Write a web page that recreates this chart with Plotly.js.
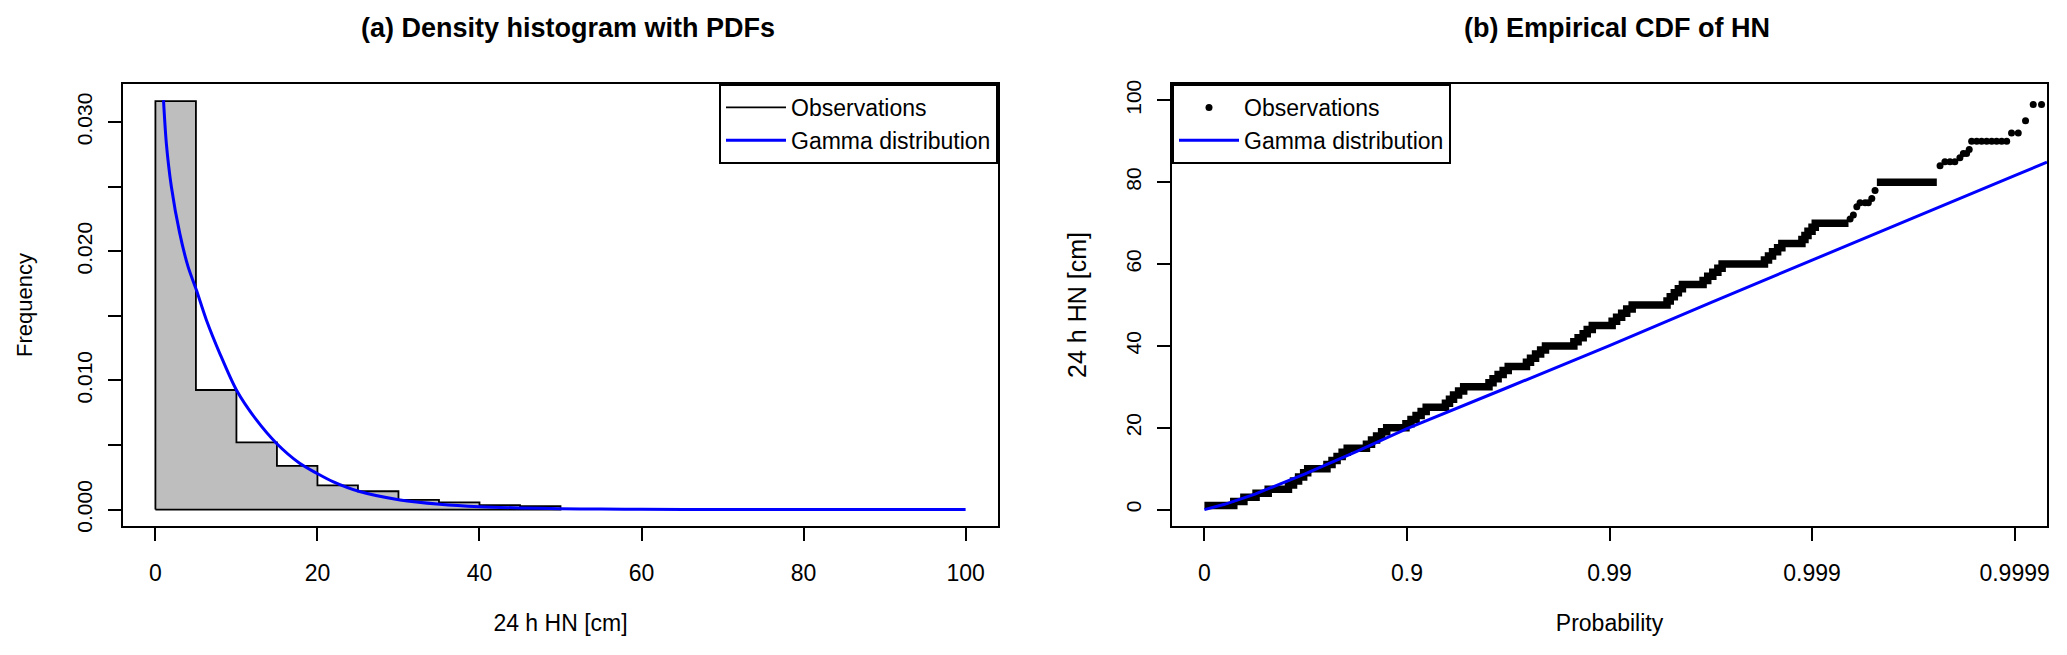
<!DOCTYPE html>
<html>
<head>
<meta charset="utf-8">
<script src="https://cdn.plot.ly/plotly-3.0.1.min.js"></script>
<style>
html, body { margin: 0; padding: 0; background: #ffffff; }
#chart { width: 2067px; height: 655px; }
</style>
</head>
<body>
<div id="chart"></div>
<script>
// ===================== Panel (a): density histogram with PDF =====================
const histBreaks  = [0, 5, 10, 15, 20, 25, 30, 35, 40, 45, 50];
const histDensity = [0.03163, 0.00926, 0.00521, 0.00338, 0.00188, 0.00142, 0.00075, 0.00056, 0.00034, 0.00027];

// fitted gamma pdf
const pdfX = [1.0, 1.35, 1.97, 3.0, 4.03, 5.06, 6.29, 7.94, 10.0, 12.47, 14.93, 17.8, 19.9, 21.9, 25.2, 30.2, 35.1, 40, 45, 50, 55, 60, 70, 80, 100];
const pdfY = [0.0317, 0.02836, 0.0250, 0.0214, 0.01881, 0.0170, 0.01468, 0.0121, 0.00926, 0.00694, 0.00514, 0.00359, 0.00282, 0.00217, 0.0014, 0.00075, 0.00042, 0.00023, 0.00013, 0.00007, 0.00004, 0.00002, 0.00001, 0.0, 0.0];

const hnTicks     = [0, 20, 40, 60, 80, 100];
const freqTicks   = [0, 0.005, 0.010, 0.015, 0.020, 0.025, 0.030];
const freqTickTxt = ['0.000', '', '0.010', '', '0.020', '', '0.030'];

// ===================== Panel (b): empirical CDF on probability paper =====================
// x values are the reduced variate  -log10(1 - p)
const probTicks   = [0, 1, 2, 3, 4];
const probTickTxt = ['0', '0.9', '0.99', '0.999', '0.9999'];

// dense part of the empirical CDF: level (cm) and reduced variate where that level starts
const stairHN = [1,2,3,4,5,6,7,8,9,10,11,12,13,14,15,16,17,18,19,20,21,22,23,24,25,26,27,28,29,30,
                 31,32,33,34,35,36,37,38,39,40,41,42,43,44,45,46,47,48,49,50,51,52,53,54,55,56,57,58,59,60,
                 61,62,63,64,65,66,67,68,69,70];
const stairStart = [0.000,0.145,0.195,0.255,0.315,0.415,0.440,0.465,0.490,0.510,
                    0.605,0.630,0.655,0.680,0.705,0.800,0.825,0.850,0.875,0.900,
                    0.995,1.020,1.045,1.070,1.095,1.190,1.210,1.230,1.255,1.280,
                    1.405,1.425,1.450,1.475,1.500,1.590,1.610,1.635,1.660,1.684,
                    1.824,1.845,1.870,1.890,1.915,2.013,2.035,2.060,2.085,2.112,
                    2.284,2.300,2.320,2.340,2.360,2.462,2.485,2.510,2.535,2.556,
                    2.765,2.785,2.805,2.830,2.851,2.950,2.965,2.980,3.000,3.016];
const stairEnd = 3.180;

// long plateau of identical values in the upper tail
const plateauHN    = [80];
const plateauStart = [3.320];
const plateauEnd   = [3.616];

// individually visible observations in the upper tail
const tailZ  = [3.188, 3.204, 3.221, 3.237, 3.262, 3.278, 3.295, 3.311,
                3.632, 3.656, 3.681, 3.705, 3.730, 3.747, 3.763, 3.776,
                3.788, 3.813, 3.837, 3.862, 3.887, 3.911, 3.936, 3.961,
                3.985, 4.018, 4.054, 4.092, 4.133];
const tailHN = [71, 72, 74, 75, 75, 75, 76, 78,
                84, 85, 85, 85, 86, 87, 87, 88,
                90, 90, 90, 90, 90, 90, 90, 90,
                92, 92, 95, 99, 99];

// fitted gamma quantiles
const gammaZ  = [0, 0.1, 0.25, 0.5, 0.75, 1.0, 1.5, 2.0, 2.5, 3.0, 3.5, 4.0, 4.16];
const gammaHN = [0, 1.3, 3.8, 8.8, 14.2, 19.8, 29.9, 40.1, 50.6, 61.0, 71.3, 81.6, 84.9];

// ===================== build traces =====================
const FONT  = 'Liberation Sans, Arial, Helvetica, sans-serif';
const NFONT = 'Liberation Sans Narrow, Arial Narrow, Liberation Sans, Arial, sans-serif';

const barMid = [], barW = [];
for (let i = 0; i < histDensity.length; i++) {
  barMid.push((histBreaks[i] + histBreaks[i + 1]) / 2);
  barW.push(histBreaks[i + 1] - histBreaks[i]);
}
const outX = [histBreaks[0]], outY = [0];
histDensity.forEach((d, i) => { outX.push(histBreaks[i], histBreaks[i + 1]); outY.push(d, d); });
outX.push(histBreaks[histBreaks.length - 1], histBreaks[0]); outY.push(0, 0);

const stX = stairStart.concat([stairEnd]);
const stY = stairHN.concat([stairHN[stairHN.length - 1]]);
plateauHN.forEach((v, i) => { stX.push(null, plateauStart[i], plateauEnd[i]); stY.push(null, v, v); });

const traces = [
  { type: 'bar', x: barMid, y: histDensity, width: barW, xaxis: 'x', yaxis: 'y',
    marker: { color: '#BEBEBE', line: { width: 0 } }, showlegend: false, hoverinfo: 'skip' },
  { type: 'scatter', mode: 'lines', x: outX, y: outY, xaxis: 'x', yaxis: 'y',
    name: 'Observations', legend: 'legend', line: { color: '#000000', width: 1.8 } },
  { type: 'scatter', mode: 'lines', x: pdfX, y: pdfY, xaxis: 'x', yaxis: 'y',
    name: 'Gamma distribution', legend: 'legend',
    line: { color: '#0000FF', width: 3, shape: 'spline', smoothing: 0.8 } },

  { type: 'scatter', mode: 'lines', x: stX, y: stY, xaxis: 'x2', yaxis: 'y2',
    name: 'Observations', legendgroup: 'obs', showlegend: false,
    line: { color: '#000000', width: 7.5, shape: 'hv' } },
  { type: 'scatter', mode: 'markers', x: tailZ, y: tailHN, xaxis: 'x2', yaxis: 'y2',
    name: 'Observations', legendgroup: 'obs', legend: 'legend2',
    marker: { color: '#000000', size: 7 } },
  { type: 'scatter', mode: 'lines', x: gammaZ, y: gammaHN, xaxis: 'x2', yaxis: 'y2',
    name: 'Gamma distribution', legend: 'legend2', line: { color: '#0000FF', width: 3 } }
];

const axisCommon = {
  showline: true, mirror: true, linecolor: '#000000', linewidth: 2,
  ticks: 'outside', ticklen: 13, tickwidth: 2, tickcolor: '#000000',
  showgrid: false, zeroline: false, fixedrange: true
};

const legendCommon = {
  bgcolor: '#ffffff', bordercolor: '#000000', borderwidth: 2,
  font: { family: FONT, size: 23, color: '#000000' },
  yanchor: 'top', y: 1, tracegroupgap: 0, itemwidth: 60
};

const layout = {
  width: 2067, height: 655,
  margin: { l: 123, r: 20, t: 84, b: 129, pad: 0 },
  paper_bgcolor: '#ffffff', plot_bgcolor: '#ffffff',
  font: { family: FONT, color: '#000000' },
  barmode: 'overlay', bargap: 0,
  xaxis: Object.assign({}, axisCommon, {
    domain: [0, 0.45478], range: [-4, 104], anchor: 'y',
    tickvals: hnTicks, ticktext: hnTicks.map(String),
    tickfont: { family: FONT, size: 23, color: '#000000' }, ticklabelstandoff: 12,
    title: { text: '24 h HN [cm]', font: { family: FONT, size: 23, color: '#000000' }, standoff: 30 }
  }),
  yaxis: Object.assign({}, axisCommon, {
    domain: [0, 1], range: [-0.00127, 0.03295], anchor: 'x',
    tickvals: freqTicks, ticktext: freqTickTxt, tickangle: -90,
    tickfont: { family: NFONT, size: 21, color: '#000000' }, ticklabelstandoff: 8,
    title: { text: 'Frequency', font: { family: NFONT, size: 22, color: '#000000' }, standoff: 34 }
  }),
  xaxis2: Object.assign({}, axisCommon, {
    domain: [0.54522, 1], range: [-0.16, 4.16], anchor: 'y2',
    tickvals: probTicks, ticktext: probTickTxt,
    tickfont: { family: FONT, size: 23, color: '#000000' }, ticklabelstandoff: 12,
    title: { text: 'Probability', font: { family: FONT, size: 23, color: '#000000' }, standoff: 30 }
  }),
  yaxis2: Object.assign({}, axisCommon, {
    domain: [0, 1], range: [-4, 104], anchor: 'x2',
    tickvals: hnTicks, ticktext: hnTicks.map(String), tickangle: -90,
    tickfont: { family: NFONT, size: 21, color: '#000000' }, ticklabelstandoff: 8,
    title: { text: '24 h HN [cm]', font: { family: NFONT, size: 25, color: '#000000' }, standoff: 28 }
  }),
  legend: Object.assign({}, legendCommon, { x: 0.45478, xanchor: 'right' }),
  legend2: Object.assign({}, legendCommon, { x: 0.54522, xanchor: 'left' }),
  annotations: [
    { text: '(a) Density histogram with PDFs', xref: 'paper', yref: 'paper', x: 0.2314, y: 1.1267,
      xanchor: 'center', yanchor: 'middle', showarrow: false,
      font: { family: FONT, size: 27, color: '#000000', weight: 'bold' } },
    { text: '(b) Empirical CDF of HN', xref: 'paper', yref: 'paper', x: 0.7767, y: 1.1267,
      xanchor: 'center', yanchor: 'middle', showarrow: false,
      font: { family: FONT, size: 27, color: '#000000', weight: 'bold' } }
  ],
  showlegend: true
};

Plotly.newPlot('chart', traces, layout, { displayModeBar: false, staticPlot: true });
</script>
</body>
</html>
